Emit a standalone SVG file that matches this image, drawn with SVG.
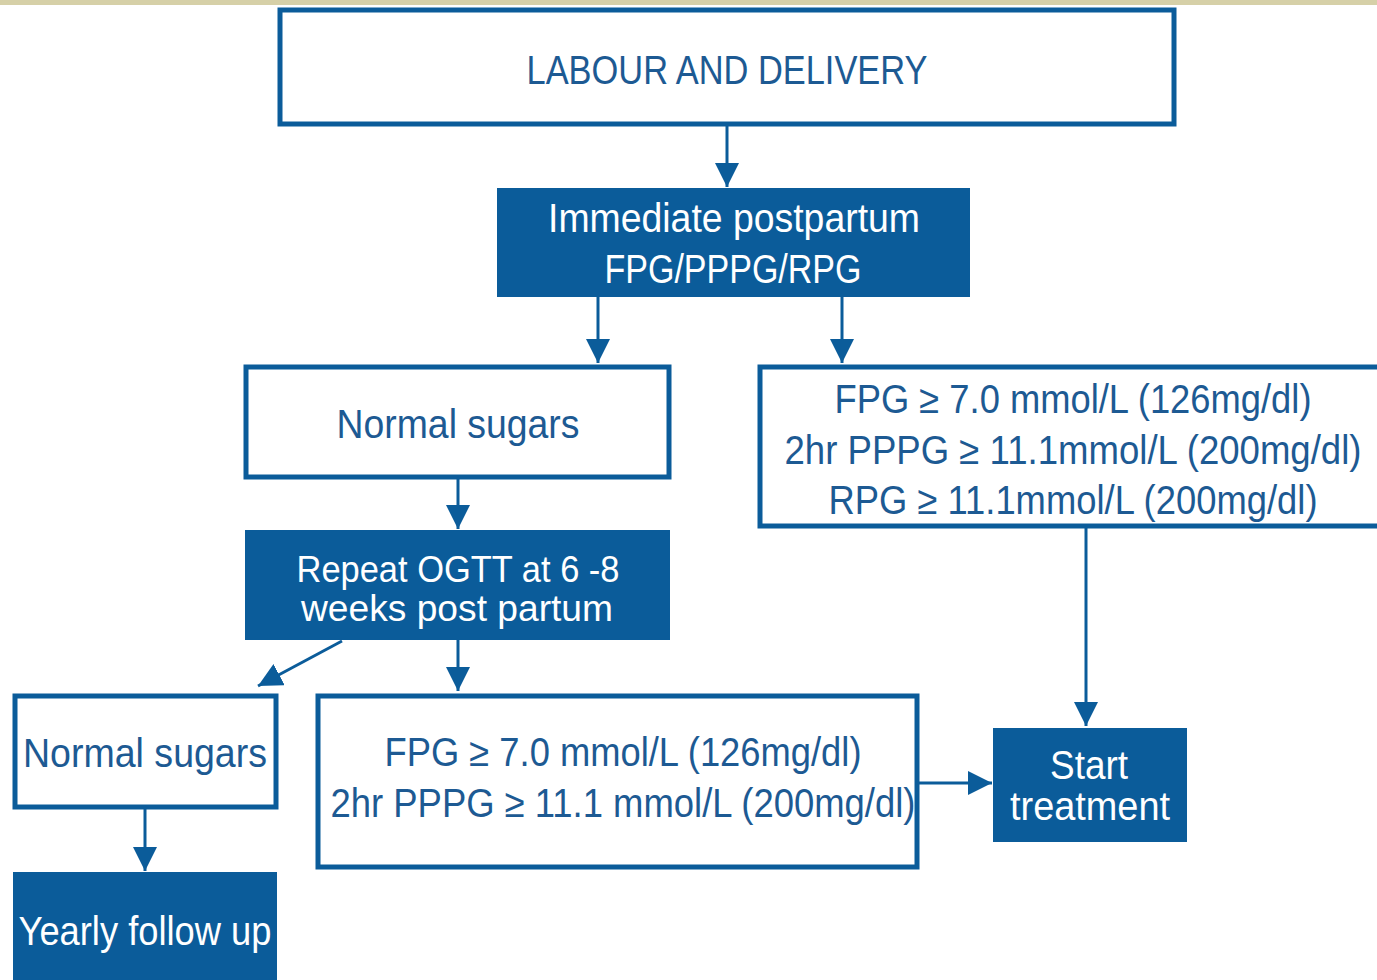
<svg xmlns="http://www.w3.org/2000/svg" width="1377" height="980" viewBox="0 0 1377 980">
<defs>
<marker id="ah" markerUnits="userSpaceOnUse" markerWidth="24" markerHeight="24" viewBox="0 0 24 24" refX="24" refY="12" orient="auto">
<path d="M0,0 L24,12 L0,24 Z" fill="#0b5c9a"/>
</marker>
<style>
.ob{fill:#fff;stroke:#0b5c9a;stroke-width:5}
.fb{fill:#0b5c9a}
.t{font-family:"Liberation Sans Narrow","Liberation Sans",Arial,sans-serif;font-size:40px;text-anchor:middle}
.s{font-size:36px}
.tb{fill:#1d5a93}
.tw{fill:#fff}
.c{stroke:#0b5c9a;stroke-width:3;fill:none;marker-end:url(#ah)}
</style>
</defs>
<rect x="0" y="0" width="1377" height="5" fill="#d6d0a8"/>
<rect x="0" y="5" width="1377" height="975" fill="#fff"/>
<g id="labour">
<rect class="ob" x="280" y="10" width="894" height="114"/>
<text class="t tb" x="727" y="84" textLength="401" lengthAdjust="spacingAndGlyphs">LABOUR AND DELIVERY</text>
</g>
<g id="immediate">
<rect class="fb" x="497" y="188" width="473" height="109"/>
<text class="t tw" x="734" y="232" textLength="372" lengthAdjust="spacingAndGlyphs">Immediate postpartum</text>
<text class="t tw" x="733" y="283" textLength="257" lengthAdjust="spacingAndGlyphs">FPG/PPPG/RPG</text>
</g>
<g id="normal1">
<rect class="ob" x="246" y="367" width="423" height="110"/>
<text class="t tb" x="458" y="438" textLength="243" lengthAdjust="spacingAndGlyphs">Normal sugars</text>
</g>
<g id="abnormal1">
<rect class="ob" x="760" y="367" width="640" height="159"/>
<text class="t tb" x="1073" y="413" textLength="477" lengthAdjust="spacingAndGlyphs">FPG ≥ 7.0 mmol/L (126mg/dl)</text>
<text class="t tb" x="1073" y="464" textLength="577" lengthAdjust="spacingAndGlyphs">2hr PPPG ≥ 11.1mmol/L (200mg/dl)</text>
<text class="t tb" x="1073" y="514" textLength="489" lengthAdjust="spacingAndGlyphs">RPG ≥ 11.1mmol/L (200mg/dl)</text>
</g>
<g id="repeat">
<rect class="fb" x="245" y="530" width="425" height="110"/>
<text class="t s tw" x="458" y="582" textLength="323" lengthAdjust="spacingAndGlyphs">Repeat OGTT at 6 -8</text>
<text class="t s tw" x="457" y="621" textLength="312" lengthAdjust="spacingAndGlyphs">weeks post partum</text>
</g>
<g id="normal2">
<rect class="ob" x="15" y="696" width="261" height="111"/>
<text class="t tb" x="145" y="767" textLength="244" lengthAdjust="spacingAndGlyphs">Normal sugars</text>
</g>
<g id="yearly">
<rect class="fb" x="13" y="872" width="264" height="108"/>
<text class="t tw" x="145" y="945" textLength="253" lengthAdjust="spacingAndGlyphs">Yearly follow up</text>
</g>
<g id="abnormal2">
<rect class="ob" x="318" y="696" width="599" height="171"/>
<text class="t tb" x="623" y="766" textLength="477" lengthAdjust="spacingAndGlyphs">FPG ≥ 7.0 mmol/L (126mg/dl)</text>
<text class="t tb" x="623" y="817" textLength="585" lengthAdjust="spacingAndGlyphs">2hr PPPG ≥ 11.1 mmol/L (200mg/dl)</text>
</g>
<g id="start">
<rect class="fb" x="993" y="728" width="194" height="114"/>
<text class="t tw" x="1089" y="779" textLength="78" lengthAdjust="spacingAndGlyphs">Start</text>
<text class="t tw" x="1090" y="820" textLength="160" lengthAdjust="spacingAndGlyphs">treatment</text>
</g>
<g id="connectors">
<line class="c" x1="727" y1="126" x2="727" y2="187"/>
<line class="c" x1="598" y1="297" x2="598" y2="363"/>
<line class="c" x1="842" y1="297" x2="842" y2="363"/>
<line class="c" x1="458" y1="479" x2="458" y2="529"/>
<line class="c" x1="342" y1="641" x2="258" y2="686"/>
<line class="c" x1="458" y1="640" x2="458" y2="691"/>
<line class="c" x1="145" y1="809" x2="145" y2="871"/>
<line class="c" x1="919" y1="783" x2="992" y2="783"/>
<line class="c" x1="1086" y1="528" x2="1086" y2="726"/>
</g>
</svg>
